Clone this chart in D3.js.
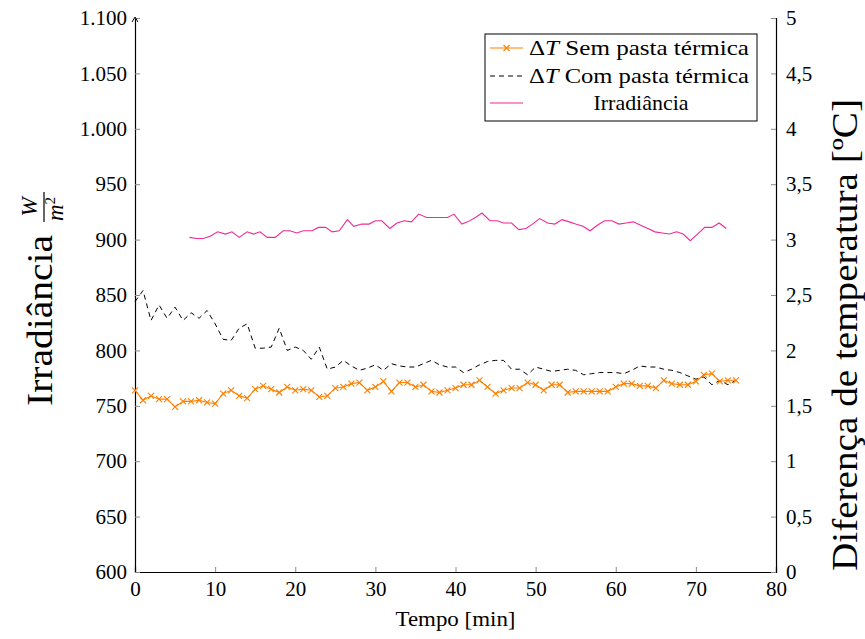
<!DOCTYPE html>
<html>
<head>
<meta charset="utf-8">
<script src="https://cdn.jsdelivr.net/npm/d3@7"></script>
<style>
  body { margin: 0; background: #fff; }
  text { font-family: "Liberation Serif", serif; fill: #000; }
</style>
</head>
<body>
<div id="chart"></div>
<script>
// time in minutes for the two temperature series
var minutes = [0,1,2,3,4,5,6,7,8,9,10,11,12,13,14,15,16,17,18,19,20,21,22,23,24,25,26,27,28,29,
  30,31,32,33,34,35,36,37,38,39,40,41,42,43,44,45,46,47,48,49,50,51,52,53,54,55,56,57,58,59,
  60,61,62,63,64,65,66,67,68,69,70,71,72,73,74,75];

// delta T without thermal paste (right axis, °C)
var dtSem = [1.64,1.55,1.59,1.56,1.56,1.49,1.54,1.54,1.55,1.53,
  1.52,1.61,1.64,1.59,1.57,1.65,1.68,1.65,1.62,1.67,
  1.64,1.65,1.64,1.58,1.59,1.66,1.67,1.70,1.71,1.64,
  1.67,1.72,1.63,1.71,1.71,1.67,1.69,1.63,1.62,1.64,
  1.66,1.69,1.69,1.73,1.67,1.61,1.64,1.66,1.66,1.71,
  1.69,1.64,1.69,1.69,1.62,1.63,1.63,1.63,1.63,1.63,
  1.67,1.70,1.70,1.68,1.68,1.66,1.73,1.70,1.69,1.69,
  1.72,1.78,1.79,1.72,1.73,1.73];

// delta T with thermal paste (right axis, °C)
var dtCom = [2.44,2.54,2.27,2.41,2.29,2.39,2.27,2.34,2.29,2.36,
  2.24,2.10,2.09,2.20,2.24,2.02,2.02,2.03,2.20,2.00,
  2.03,2.00,1.92,2.03,1.83,1.85,1.91,1.86,1.82,1.84,
  1.87,1.82,1.88,1.86,1.85,1.85,1.88,1.91,1.87,1.85,
  1.85,1.80,1.83,1.87,1.90,1.91,1.91,1.83,1.83,1.78,
  1.85,1.83,1.81,1.82,1.83,1.82,1.78,1.79,1.80,1.80,
  1.80,1.79,1.82,1.86,1.85,1.85,1.83,1.82,1.80,1.77,
  1.74,1.76,1.69,1.73,1.69,1.73];

// irradiance (left axis, W/m2), own time base
var irrTime = [6.8,7.7,8.5,9.4,10.3,11.3,12.1,13.0,14.0,14.8,15.6,16.5,17.5,18.5,19.3,20.2,21.0,22.1,22.9,23.8,
  24.6,25.5,26.5,27.3,28.3,29.2,30.0,30.8,31.8,32.7,33.6,34.5,35.4,36.4,37.3,38.2,39.0,39.8,40.8,41.5,
  42.5,43.3,44.3,45.2,46.0,47.0,47.9,48.8,49.6,50.5,51.5,52.4,53.3,54.2,55.0,55.9,56.8,57.7,58.6,59.5,
  60.4,61.3,62.2,63.1,64.0,64.9,65.8,66.7,67.6,68.4,69.3,70.2,71.1,72.0,72.9,73.8];
var irr = [902,901,901,903,907,905,907,902,907,905,907,902,902,908,908,906,908,908,911,911,
  907,908,918,912,914,914,917,917,910,915,917,916,923,920,920,920,920,923,914,916,
  920,924,917,917,915,915,909,910,914,919,915,914,918,916,914,912,908,913,917,917,
  914,915,916,913,910,907,906,905,907,905,899,905,911,911,915,910];

var xTicks = [0,10,20,30,40,50,60,70,80];
var leftTicks = [600,650,700,750,800,850,900,950,1000,1050,1100];
var rightTicks = [0,0.5,1,1.5,2,2.5,3,3.5,4,4.5,5];

var width = 865, height = 639;
var margin = {top: 18, right: 89, bottom: 67, left: 135};

var svg = d3.select("#chart").append("svg")
    .attr("width", width)
    .attr("height", height);

var x = d3.scaleLinear().domain([0, 80]).range([margin.left, width - margin.right]);
var yL = d3.scaleLinear().domain([600, 1100]).range([height - margin.bottom, margin.top]);
var yR = d3.scaleLinear().domain([0, 5]).range([height - margin.bottom, margin.top]);

var ptBR = d3.formatLocale({decimal: ",", thousands: ".", grouping: [3], currency: ["R$", ""]});

// axes
var gx = svg.append("g")
    .attr("transform", "translate(0," + (height - margin.bottom) + ")")
    .call(d3.axisBottom(x).tickValues(xTicks).tickSize(-5).tickPadding(9));
var gl = svg.append("g")
    .attr("transform", "translate(" + margin.left + ",0)")
    .call(d3.axisLeft(yL).tickValues(leftTicks).tickSize(-5).tickPadding(8).tickFormat(ptBR.format(",")));
var gr = svg.append("g")
    .attr("transform", "translate(" + (width - margin.right) + ",0)")
    .call(d3.axisRight(yR).tickValues(rightTicks).tickSize(-5).tickPadding(10).tickFormat(ptBR.format("~g")));

[gx, gl, gr].forEach(function(g) {
    g.selectAll("text").style("font-size", "21px").style("font-family", "Liberation Serif");
    g.selectAll(".tick line").attr("stroke", "#8a8a8a");
    g.select(".domain").attr("stroke", "#000").attr("stroke-width", 1.2);
});

// small arrow tip on top of left axis
svg.append("path")
    .attr("d", "M" + (margin.left - 3) + "," + (margin.top + 4) + " L" + margin.left + "," + (margin.top - 1) + " L" + (margin.left + 3) + "," + (margin.top + 4))
    .attr("fill", "none").attr("stroke", "#000").attr("stroke-width", 1);

var orange = "#ff8000", pink = "#ee2a96";

// lines
var lineR = d3.line().x(function(d) { return x(d[0]); }).y(function(d) { return yR(d[1]); });
var lineL = d3.line().x(function(d) { return x(d[0]); }).y(function(d) { return yL(d[1]); });

svg.append("path")
    .datum(irrTime.map(function(t, i) { return [t, irr[i]]; }))
    .attr("d", lineL)
    .attr("fill", "none").attr("stroke", pink).attr("stroke-width", 1.1);

svg.append("path")
    .datum(minutes.map(function(t, i) { return [t, dtCom[i]]; }))
    .attr("d", lineR)
    .attr("fill", "none").attr("stroke", "#000").attr("stroke-width", 1)
    .attr("stroke-dasharray", "5,4");

var semData = minutes.map(function(t, i) { return [t, dtSem[i]]; });
svg.append("path")
    .datum(semData)
    .attr("d", lineR)
    .attr("fill", "none").attr("stroke", orange).attr("stroke-width", 1.1);

function cross(g, cx, cy) {
    var s = 3;
    g.append("path")
        .attr("d", "M" + (cx - s) + "," + (cy - s) + "L" + (cx + s) + "," + (cy + s) +
                   "M" + (cx - s) + "," + (cy + s) + "L" + (cx + s) + "," + (cy - s))
        .attr("stroke", orange).attr("stroke-width", 1.1);
}
var marks = svg.append("g");
semData.forEach(function(d) { cross(marks, x(d[0]), yR(d[1])); });

// axis titles
svg.append("text")
    .attr("x", (x(0) + x(80)) / 2).attr("y", 626)
    .attr("text-anchor", "middle")
    .attr("textLength", 120).attr("lengthAdjust", "spacingAndGlyphs")
    .style("font-size", "21px")
    .text("Tempo [min]");

var ylab = svg.append("g").attr("transform", "translate(52,406) rotate(-90)");
ylab.append("text")
    .attr("x", 0).attr("y", 0)
    .attr("textLength", 171).attr("lengthAdjust", "spacingAndGlyphs")
    .style("font-size", "36px")
    .text("Irradiância");
ylab.append("text").attr("x", 199).attr("y", -15).attr("text-anchor", "middle")
    .style("font-size", "23px").style("font-style", "italic").text("W");
ylab.append("line").attr("x1", 184).attr("x2", 214).attr("y1", -8).attr("y2", -8)
    .attr("stroke", "#000").attr("stroke-width", 1.2);
var den = ylab.append("text").attr("x", 197).attr("y", 11).attr("text-anchor", "middle")
    .style("font-size", "23px").style("font-style", "italic");
den.append("tspan").text("m");
den.append("tspan").attr("dy", -8).style("font-size", "15px").style("font-style", "normal").text("2");

svg.append("text")
    .attr("transform", "translate(857,335) rotate(-90)")
    .attr("text-anchor", "middle")
    .attr("textLength", 472).attr("lengthAdjust", "spacingAndGlyphs")
    .style("font-size", "35px")
    .text("Diferença de temperatura [ºC]");

// legend
var lg = svg.append("g");
lg.append("rect").attr("x", 485).attr("y", 34).attr("width", 272).attr("height", 87)
    .attr("fill", "#fff").attr("stroke", "#000").attr("stroke-width", 1);

lg.append("line").attr("x1", 490).attr("x2", 523).attr("y1", 48).attr("y2", 48)
    .attr("stroke", orange).attr("stroke-width", 1.1);
cross(lg, 506.5, 48);
lg.append("line").attr("x1", 490).attr("x2", 523).attr("y1", 76).attr("y2", 76)
    .attr("stroke", "#000").attr("stroke-width", 1).attr("stroke-dasharray", "5,4");
lg.append("line").attr("x1", 490).attr("x2", 523).attr("y1", 103).attr("y2", 103)
    .attr("stroke", pink).attr("stroke-width", 1.1);

function dtLabel(y, rest) {
    var t = lg.append("text").attr("x", 529).attr("y", y).style("font-size", "21px")
        .attr("textLength", 220).attr("lengthAdjust", "spacingAndGlyphs");
    t.append("tspan").text("Δ");
    t.append("tspan").style("font-style", "italic").text("T");
    t.append("tspan").text(" " + rest);
}
dtLabel(55, "Sem pasta térmica");
dtLabel(83, "Com pasta térmica");
lg.append("text").attr("x", 641).attr("y", 110).attr("text-anchor", "middle")
    .attr("textLength", 95).attr("lengthAdjust", "spacingAndGlyphs")
    .style("font-size", "21px").text("Irradiância");
</script>
</body>
</html>
